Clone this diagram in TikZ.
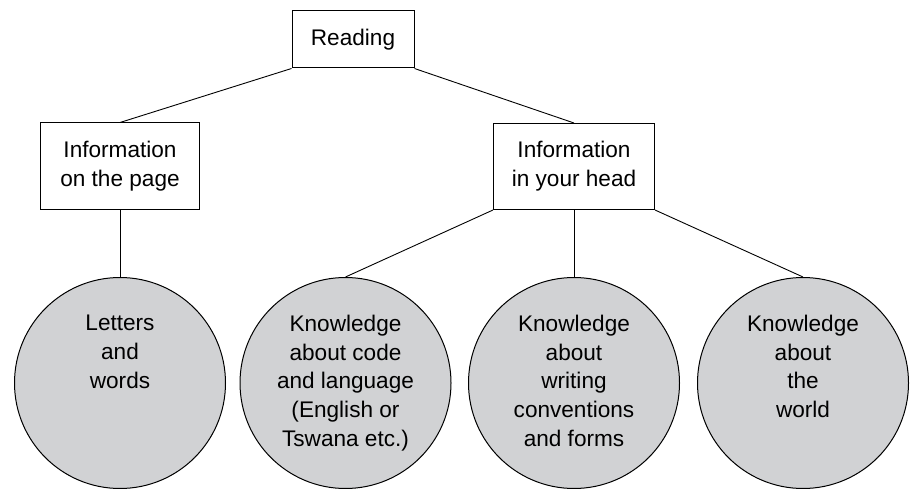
\documentclass[tikz,border=0pt]{standalone}
\usepackage{fontspec}
\setmainfont{Liberation Sans}
\usetikzlibrary{positioning}
\definecolor{circgray}{RGB}{209,210,212}
\tikzset{
  txtfont/.style={font=\fontsize{22.6}{28.7}\selectfont},
  box/.style={draw, line width=1pt, align=center, txtfont},
  knowcirc/.style={circle, draw, line width=1pt, fill=circgray, minimum size=211pt, inner sep=0pt},
  circtext/.style={align=center, inner sep=0pt, txtfont},
  link/.style={line width=0.9pt}
}

\begin{document}
\begin{tikzpicture}[x=1pt,y=-1pt]
\useasboundingbox (0,0) rectangle (912,489);

\node[box, minimum width=122pt, minimum height=57pt] (reading) at (353,39.5) {Reading};
\node[box, minimum width=159pt, minimum height=86pt] (page) at (120,166) {Information\\on the page};
\node[box, minimum width=161pt, minimum height=86pt] (head) at (574,166.5) {Information\\in your head};

% knowledge circles
\foreach \i/\xpos/\txt in {1/120/{Letters\\and\\words},
  2/345.5/{Knowledge\\about code\\and language\\(English or\\Tswana etc.)},
  3/574/{Knowledge\\about\\writing\\conventions\\and forms},
  4/803/{Knowledge\\about\\the\\world}}
{
  \node[knowcirc] (c\i) at (\xpos,383) {};
  \node[circtext, below=38pt of c\i.north] (t\i) {\txt};
}

\draw[link] (reading.south west) -- (page.north);
\draw[link] (reading.south east) -- (head.north);
\draw[link] (page.south) -- (c1.north);
\draw[link] (head.south west) -- (c2.north);
\draw[link] (head.south) -- (c3.north);
\draw[link] (head.south east) -- (c4.north);
\end{tikzpicture}
\end{document}
